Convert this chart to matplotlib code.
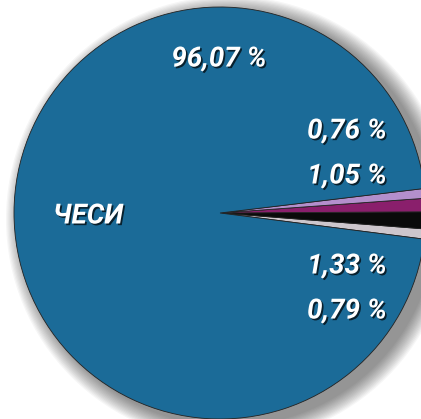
import matplotlib
matplotlib.use("Agg")
import matplotlib.pyplot as plt
import matplotlib.patheffects as pe
from matplotlib.patches import Circle

categories = ["grey", "black", "magenta", "lavender", "ЧЕСИ"]
values = [0.79, 1.33, 1.05, 0.76, 96.07]
labels = ["0,79 %", "1,33 %", "1,05 %", "0,76 %", "96,07 %"]
colors = ["#cdc6cc", "#0a0a0a", "#8a1f6c", "#b48fcc", "#1b6b98"]

W, H = 421, 419
fig = plt.figure(figsize=(W / 100, H / 100), dpi=100)
ax = fig.add_axes([0, 0, 1, 1])
cx, cy, R = 220, 213, 206

def px(x, y):
    return (x - cx) / R, (cy - y) / R

# soft shadow
for i in range(14):
    ax.add_patch(Circle((0.045, -0.03), 1.0 + 0.006 * (14 - i), color="black",
                        alpha=0.035, lw=0, zorder=0))

ax.pie(values, colors=colors, startangle=-7.3, counterclock=True,
       radius=1.0, center=(0, 0), frame=True,
       wedgeprops=dict(edgecolor="#222222", linewidth=0.6))
ax.set_xlim(px(0, 0)[0], px(W, 0)[0])
ax.set_ylim(px(0, H)[1], px(0, 0)[1])
ax.set_aspect("auto")
ax.axis("off")

fx = [pe.withSimplePatchShadow(offset=(1.2, -1.2), shadow_rgbFace="black", alpha=0.7)]
font = dict(color="white", fontweight="bold", fontstyle="italic",
            family=["Roboto", "DejaVu Sans"], fontsize=20,
            ha="center", va="center", path_effects=fx)

label_pos = [(347, 311), (347, 266), (347, 176), (347, 131), (219, 59)]
for lab, (x, y) in zip(labels, label_pos):
    ax.text(*px(x, y), lab, **font)
ax.text(*px(88, 216), categories[-1], **font)

fig.savefig("out.png", dpi=100)
